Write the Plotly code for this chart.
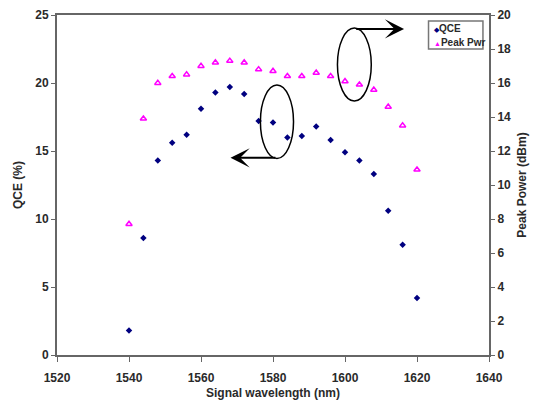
import plotly.graph_objects as go

wavelength = [1540, 1544, 1548, 1552, 1556, 1560, 1564, 1568, 1572, 1576, 1580,
              1584, 1588, 1592, 1596, 1600, 1604, 1608, 1612, 1616, 1620]
qce = [1.8, 8.6, 14.3, 15.6, 16.2, 18.1, 19.3, 19.7, 19.2, 17.2, 17.1,
       16.0, 16.1, 16.8, 15.8, 14.9, 14.3, 13.3, 10.6, 8.1, 4.2]
peak_pwr = [7.7, 13.9, 16.0, 16.4, 16.5, 17.0, 17.2, 17.3, 17.2, 16.8, 16.7,
            16.4, 16.4, 16.6, 16.4, 16.1, 15.9, 15.6, 14.6, 13.5, 10.9]
series_names = ["QCE", "Peak Pwr"]

FONT = "Liberation Sans, Arial, sans-serif"
NARROW = "Liberation Sans Narrow, Liberation Sans, Arial, sans-serif"
TXT = "#2a2a2a"
AX = "#666666"
QCE_COLOR = "#000080"
PWR_COLOR = "#ff00ff"

fig = go.Figure()
fig.add_trace(go.Scatter(x=wavelength, y=qce, mode="markers", name=series_names[0],
                         marker=dict(symbol="diamond", size=5, color=QCE_COLOR),
                         yaxis="y", showlegend=False))
fig.add_trace(go.Scatter(x=wavelength, y=peak_pwr, mode="markers", name=series_names[1],
                         marker=dict(symbol="triangle-up-open", size=5.5, color=PWR_COLOR,
                                     line=dict(width=1.5)),
                         yaxis="y2", showlegend=False))

# annotation ellipses (data coordinates)
fig.add_shape(type="circle", xref="x", yref="y", x0=1576.5, x1=1585.7, y0=14.45, y1=19.85,
              line=dict(color="black", width=1.5))
fig.add_shape(type="circle", xref="x", yref="y2", x0=1597.9, x1=1607.3, y0=14.94, y1=19.23,
              line=dict(color="black", width=1.5))
fig.add_annotation(x=1568.2, y=14.5, xref="x", yref="y", ax=1581.1, ay=14.5,
                   axref="x", ayref="y", showarrow=True, arrowhead=3, arrowsize=1.6,
                   arrowwidth=2, arrowcolor="black", text="")
fig.add_annotation(x=1616.4, y=19.18, xref="x", yref="y2", ax=1602.7, ay=19.18,
                   axref="x", ayref="y2", showarrow=True, arrowhead=3, arrowsize=1.6,
                   arrowwidth=2, arrowcolor="black", text="")

# compact legend box (paper coordinates)
fig.add_shape(type="rect", xref="paper", yref="paper", x0=0.86, x1=0.986, y0=0.90, y1=0.982,
              line=dict(color="#777777", width=1.5), fillcolor="rgba(0,0,0,0)", layer="above")
fig.add_annotation(xref="paper", yref="paper", x=0.868, y=0.959, xanchor="left", yanchor="middle",
                   showarrow=False,
                   text=f"<span style='color:{QCE_COLOR};font-size:7px'>◆</span><b>{series_names[0]}</b>",
                   font=dict(family=NARROW, size=10, color=TXT))
fig.add_annotation(xref="paper", yref="paper", x=0.868, y=0.918, xanchor="left", yanchor="middle",
                   showarrow=False,
                   text=f"<span style='color:{PWR_COLOR};font-size:7px'>▲</span><b>{series_names[1]}</b>",
                   font=dict(family=NARROW, size=10, color=TXT))

tickfont = dict(family=FONT, size=12, color=TXT, weight="bold")
titlefont = dict(family=FONT, size=12, color=TXT, weight="bold")
fig.update_layout(
    width=542, height=401,
    margin=dict(l=49, r=61, t=7, b=54),
    paper_bgcolor="white", plot_bgcolor="white",
    font=dict(family=FONT, color=TXT),
    showlegend=False,
    xaxis=dict(range=[1520, 1640], dtick=20, tickformat="d", automargin=False,
               showgrid=False, zeroline=False,
               showline=True, linecolor=AX, linewidth=2, mirror=True,
               ticks="outside", ticklen=5, tickcolor=AX, tickwidth=1,
               ticklabelstandoff=6,
               tickfont=tickfont,
               title=dict(text="Signal wavelength (nm)", standoff=4, font=titlefont)),
    yaxis=dict(range=[0, 25], dtick=5, showgrid=False, zeroline=False, automargin=False,
               showline=True, linecolor=AX, linewidth=2,
               ticks="outside", ticklen=4, tickcolor=AX, tickwidth=1,
               tickfont=tickfont,
               title=dict(text="QCE (%)", standoff=10, font=titlefont)),
    yaxis2=dict(range=[0, 20], dtick=2, overlaying="y", side="right", automargin=False,
                showgrid=False, zeroline=False,
                showline=True, linecolor=AX, linewidth=2,
                ticks="outside", ticklen=4, tickcolor=AX, tickwidth=1,
                tickfont=tickfont,
                title=dict(text="Peak Power (dBm)", standoff=8, font=titlefont)),
)

fig.write_html("out.html")
